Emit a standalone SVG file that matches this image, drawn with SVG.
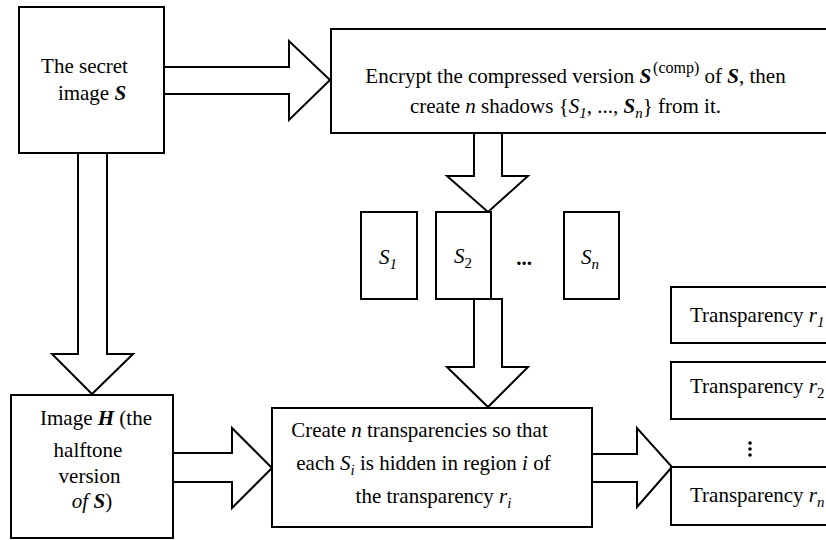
<svg xmlns="http://www.w3.org/2000/svg" width="826" height="540" viewBox="0 0 826 540">
  <style>
    .box { fill: #fff; stroke: #000; stroke-width: 2; }
    .arrow { fill: #fff; stroke: #000; stroke-width: 2; stroke-linejoin: miter; }
    text { font-family: "Liberation Serif", "Times New Roman", serif; font-size: 21px; fill: #000; }
    .c { text-anchor: middle; }
    .i { font-style: italic; }
    .bi { font-style: italic; font-weight: bold; }
    .sub { font-size: 15px; }
    .sup { font-size: 16px; }
  </style>
  <rect width="826" height="540" fill="#fff"/>

  <!-- block arrows between the stages -->
  <g id="connectors">
    <!-- secret image -> encryption -->
    <path class="arrow" d="M164,67 H289 V41 L330,80 L289,120 V94 H164"/>
    <!-- secret image -> halftone image -->
    <path class="arrow" d="M78,153 V354 H52 L92,394 L133,354 H107 V153"/>
    <!-- encryption -> shadows -->
    <path class="arrow" d="M474,133 V176 H447 L488,212 L528,176 H502 V133"/>
    <!-- shadow S2 -> transparency creation -->
    <path class="arrow" d="M474,299 V367 H447 L488,407 L528,367 H502 V299 Z"/>
    <!-- halftone image -> transparency creation -->
    <path class="arrow" d="M173,453 H232 V428 L272,468 L232,508 V482 H173"/>
    <!-- transparency creation -> transparencies -->
    <path class="arrow" d="M592,454 H637 V428 L672,467 L637,507 V482 H592"/>
  </g>

  <g id="secret-image">
    <rect class="box" x="19" y="7" width="145" height="146"/>
    <text class="c" x="84.5" y="73">The secret</text>
    <text class="c" x="92" y="100">image <tspan class="bi">S</tspan></text>
  </g>

  <g id="encrypt">
    <rect class="box" x="331" y="29" width="500" height="104"/>
    <text class="c" x="575.5" y="83">Encrypt the compressed version <tspan class="bi">S</tspan><tspan class="sup" dx="2" dy="-10">(comp)</tspan><tspan dy="10"> of </tspan><tspan class="bi">S</tspan>, then</text>
    <text class="c" x="565.5" y="113">create <tspan class="i">n</tspan> shadows {<tspan class="i">S</tspan><tspan class="sub i" dy="5">1</tspan><tspan dy="-5">, ..., </tspan><tspan class="bi">S</tspan><tspan class="sub i" dy="5">n</tspan><tspan dy="-5">} from it.</tspan></text>
  </g>

  <g id="shadow-1">
    <rect class="box" x="361" y="212" width="56" height="87"/>
    <text class="c" x="388" y="264"><tspan class="i">S</tspan><tspan class="sub i" dy="5">1</tspan></text>
  </g>
  <g id="shadow-2">
    <rect class="box" x="436" y="212" width="55" height="87"/>
    <text class="c" x="463" y="263"><tspan class="i">S</tspan><tspan class="sub" dy="5">2</tspan></text>
  </g>
  <g id="shadow-dots">
    <text class="c" x="524" y="265" font-weight="bold">...</text>
  </g>
  <g id="shadow-n">
    <rect class="box" x="564" y="212" width="55" height="87"/>
    <text class="c" x="590" y="264"><tspan class="i">S</tspan><tspan class="sub i" dy="5">n</tspan></text>
  </g>

  <g id="halftone-image">
    <rect class="box" x="11" y="395" width="162" height="143"/>
    <text class="c" x="96" y="425">Image <tspan class="bi">H</tspan> (the</text>
    <text class="c" x="88" y="457">halftone</text>
    <text class="c" x="89.5" y="483">version</text>
    <text class="c" x="92" y="508"><tspan class="i">of</tspan> <tspan class="bi">S</tspan>)</text>
  </g>

  <g id="create-transparencies">
    <rect class="box" x="272" y="408" width="320" height="119"/>
    <text class="c" x="419.5" y="437">Create <tspan class="i">n</tspan> transparencies so that</text>
    <text class="c" x="423.5" y="470">each <tspan class="i">S</tspan><tspan class="sub i" dy="5">i</tspan><tspan dy="-5"> is hidden in region </tspan><tspan class="i">i</tspan> of</text>
    <text class="c" x="433.5" y="503">the transparency <tspan class="i">r</tspan><tspan class="sub i" dy="5">i</tspan></text>
  </g>

  <g id="transparency-1">
    <rect class="box" x="671" y="287" width="170" height="56"/>
    <text x="690" y="322">Transparency <tspan class="i">r</tspan><tspan class="sub i" dy="5">1</tspan></text>
  </g>
  <g id="transparency-2">
    <rect class="box" x="671" y="362" width="170" height="57"/>
    <text x="690" y="393">Transparency <tspan class="i">r</tspan><tspan class="sub" dy="5">2</tspan></text>
  </g>
  <g id="transparency-dots">
    <circle cx="750" cy="443" r="1.8"/>
    <circle cx="750" cy="449" r="1.8"/>
    <circle cx="750" cy="455" r="1.8"/>
  </g>
  <g id="transparency-n">
    <rect class="box" x="671" y="467" width="170" height="58"/>
    <text x="690" y="502">Transparency <tspan class="i">r</tspan><tspan class="sub i" dy="5">n</tspan></text>
  </g>
</svg>
